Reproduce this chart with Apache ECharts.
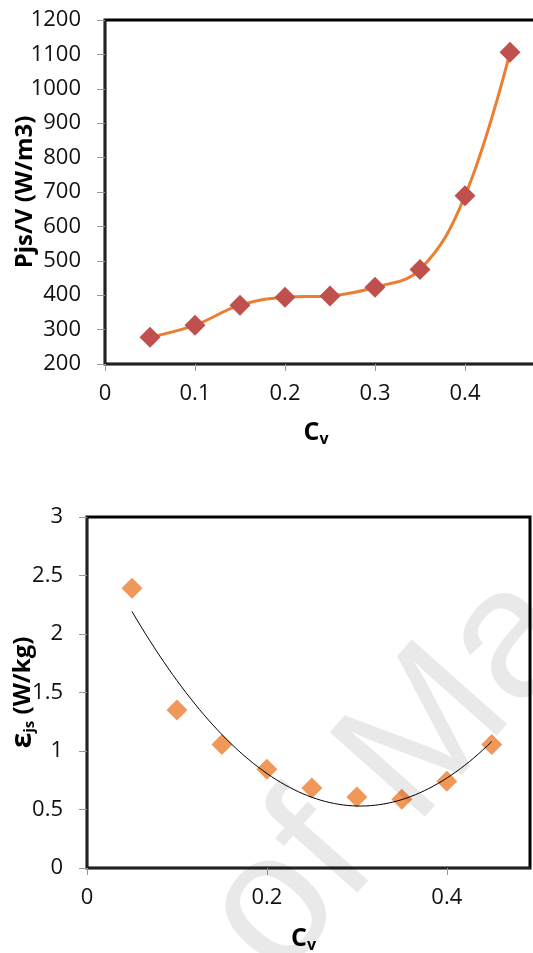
<!DOCTYPE html>
<html>
<head>
<meta charset="utf-8">
<script src="https://cdn.jsdelivr.net/npm/echarts@6/dist/echarts.min.js"></script>
<style>
html,body{margin:0;padding:0;background:#fff;}
#c{width:533px;height:953px;}
</style>
</head>
<body>
<div id="c"></div>
<script>
// ---- data ----
var cv = [0.05, 0.10, 0.15, 0.20, 0.25, 0.30, 0.35, 0.40, 0.45];
var powerPerVolume = [278, 313, 371, 394, 398, 423, 475, 689, 1106];
var epsilonJs = [2.39, 1.35, 1.055, 0.843, 0.684, 0.607, 0.587, 0.741, 1.055];
var xTicks1 = [0, 0.1, 0.2, 0.3, 0.4];
var yTicks1 = [200, 300, 400, 500, 600, 700, 800, 900, 1000, 1100, 1200];
var xTicks2 = [0, 0.2, 0.4];
var yTicks2 = [0, 0.5, 1, 1.5, 2, 2.5, 3];

// least-squares quadratic trendline (as the spreadsheet trendline)
function quadFit(xs, ys) {
  var n = xs.length, s = [0,0,0,0,0], t = [0,0,0];
  for (var i = 0; i < n; i++) {
    var x = xs[i], y = ys[i], p = 1;
    for (var k = 0; k < 5; k++) { s[k] += p; if (k < 3) t[k] += p * y; p *= x; }
  }
  var M = [[s[0],s[1],s[2],t[0]],[s[1],s[2],s[3],t[1]],[s[2],s[3],s[4],t[2]]];
  for (var c = 0; c < 3; c++) {
    for (var r = c + 1; r < 3; r++) {
      var f = M[r][c] / M[c][c];
      for (var j = c; j < 4; j++) M[r][j] -= f * M[c][j];
    }
  }
  var b = [0,0,0];
  for (var r2 = 2; r2 >= 0; r2--) {
    var v = M[r2][3];
    for (var j2 = r2 + 1; j2 < 3; j2++) v -= M[r2][j2] * b[j2];
    b[r2] = v / M[r2][r2];
  }
  return b;
}
var coef = quadFit(cv, epsilonJs);
var trend = [];
var x0 = cv[0], x1 = cv[cv.length - 1];
for (var i = 0; i <= 80; i++) {
  var x = x0 + (x1 - x0) * i / 80;
  trend.push([x, coef[0] + coef[1] * x + coef[2] * x * x]);
}

var font = 'Open Sans';
function plain(v) { return String(Math.round(v * 1000) / 1000); }
function xAxisCommon(gi, max, interval, ticks, name, gap, shift) {
  return {
    type: 'value', gridIndex: gi, min: 0, max: max, interval: interval,
    name: name, nameLocation: 'middle', nameGap: gap,
    nameTextStyle: {
      padding: [0, shift, 0, 0],
      rich: {
        a: {fontFamily: font, fontSize: 25, fontWeight: 'bold', color: '#000'},
        b: {fontFamily: font, fontSize: 16, fontWeight: 'bold', color: '#000', padding: [13, 0, 0, 0]}
      }
    },
    axisLine: {show: true, lineStyle: {color: '#222', width: 2}},
    axisTick: {show: true, length: 7, lineStyle: {color: '#999', width: 1}},
    axisLabel: {
      fontFamily: font, fontSize: 22, color: '#111', margin: 19, showMaxLabel: false,
      formatter: function (v) { return ticks.indexOf(Math.round(v * 1000) / 1000) >= 0 ? plain(v) : ''; }
    },
    splitLine: {show: false}
  };
}
function yAxisCommon(gi, min, max, interval, ticks, name, gap) {
  return {
    type: 'value', gridIndex: gi, min: min, max: max, interval: interval,
    name: name, nameLocation: 'middle', nameGap: gap, nameRotate: 90, nameMoveOverlap: false,
    nameTextStyle: {
      fontFamily: font, fontSize: 24, fontWeight: 'bold', color: '#000',
      rich: {
        a: {fontFamily: font, fontSize: 24, fontWeight: 'bold', color: '#000'},
        e: {fontFamily: font, fontSize: 28, fontWeight: 'bold', color: '#000'},
        b: {fontFamily: font, fontSize: 15, fontWeight: 'bold', color: '#000', padding: [13, 0, 0, 0]}
      }
    },
    axisLine: {show: true, lineStyle: {color: '#222', width: 2}},
    axisTick: {show: true, length: 8, lineStyle: {color: '#999', width: 1}},
    axisLabel: {
      fontFamily: font, fontSize: 22, color: '#111', margin: 24,
      formatter: function (v) { return ticks.indexOf(Math.round(v * 1000) / 1000) >= 0 ? plain(v) : ''; }
    },
    splitLine: {show: false}
  };
}

var chart = echarts.init(document.getElementById('c'), null, {renderer: 'canvas'});
chart.setOption({
  backgroundColor: '#fff',
  animation: false,
  graphic: [{
    type: 'text', z: 100, silent: true,
    x: 240, y: 948, rotation: 0.845,
    style: {text: 'of Ma', fontFamily: 'Liberation Sans', fontSize: 185, fill: 'rgba(0,0,0,0.085)', verticalAlign: 'middle', align: 'left'}
  }],
  grid: [
    {left: 105, top: 20, width: 450, height: 344, outerBoundsMode: 'none', containLabel: false, show: true, borderColor: '#000', borderWidth: 3, backgroundColor: 'transparent'},
    {left: 87, top: 517, width: 443, height: 351, outerBoundsMode: 'none', containLabel: false, show: true, borderColor: '#000', borderWidth: 3, backgroundColor: 'transparent'}
  ],
  xAxis: [
    xAxisCommon(0, 0.5, 0.1, xTicks1, '{a|C}{b|v}', 54, 28),
    xAxisCommon(1, 0.4925, 0.2, xTicks2, '{a|C}{b|v}', 56, 10)
  ],
  yAxis: [
    yAxisCommon(0, 200, 1200, 100, yTicks1, 'Pjs/V (W/m3)', 68),
    yAxisCommon(1, 0, 3, 0.5, yTicks2, '{e|ε}{b|js}{a| (W/kg)}', 50)
  ],
  series: [
    {
      type: 'line', xAxisIndex: 0, yAxisIndex: 0,
      data: cv.map(function (x, i) { return [x, powerPerVolume[i]]; }),
      smooth: 0.4,
      lineStyle: {color: '#ED7D31', width: 3},
      symbol: 'diamond', symbolSize: 21, showAllSymbol: true,
      itemStyle: {color: '#C0504D'}, z: 3
    },
    {
      type: 'line', xAxisIndex: 1, yAxisIndex: 1,
      data: trend, showSymbol: false, smooth: false,
      lineStyle: {color: '#000', width: 1}, z: 4
    },
    {
      type: 'scatter', xAxisIndex: 1, yAxisIndex: 1,
      data: cv.map(function (x, i) { return [x, epsilonJs[i]]; }),
      symbol: 'diamond', symbolSize: 21,
      itemStyle: {color: '#ED7D31'}, z: 3
    }
  ]
});
</script>
</body>
</html>
